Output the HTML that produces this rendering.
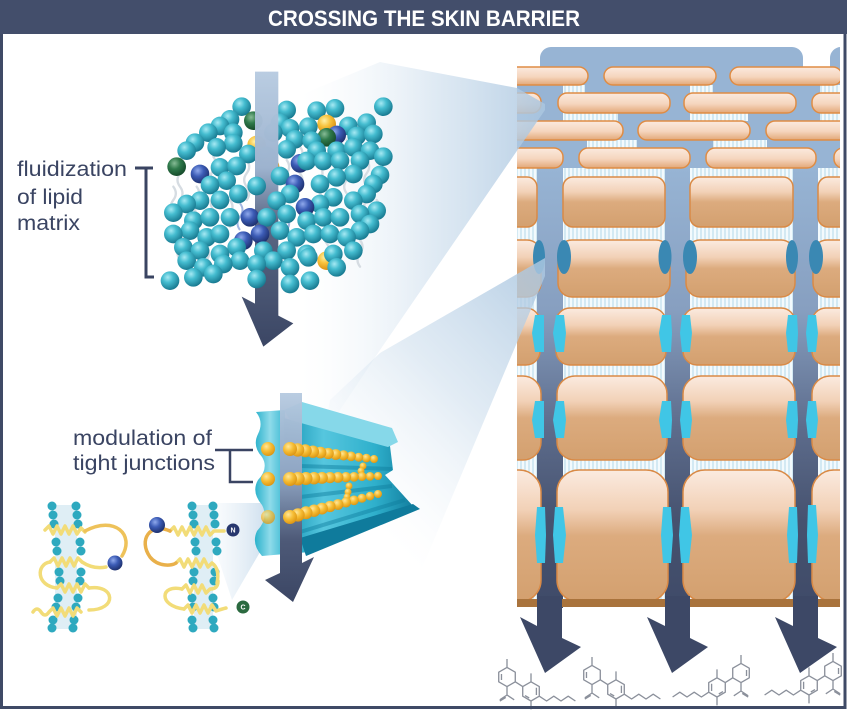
<!DOCTYPE html>
<html><head><meta charset="utf-8"><style>
html,body{margin:0;padding:0;background:#fff;}
svg{display:block;}
.t{fill:url(#gt)}.b{fill:url(#gb)}.g{fill:url(#gg)}.y{fill:url(#gy)}
.bd{fill:url(#gbead)}
.tb{fill:#2ea9bf}
</style></head><body>
<svg width="850" height="712" viewBox="0 0 850 712" xmlns="http://www.w3.org/2000/svg">
<defs>
<pattern id="stripes" width="4" height="10" patternUnits="userSpaceOnUse"><rect width="4" height="10" fill="#f3fafd"/><rect width="2" height="10" fill="#d3e9f3"/></pattern>
<linearGradient id="flat" x1="0" y1="0" x2="0" y2="1"><stop offset="0" stop-color="#fbeadf"/><stop offset="0.55" stop-color="#f5d5bd"/><stop offset="1" stop-color="#e2a878"/></linearGradient>
<linearGradient id="big" x1="0" y1="0" x2="0" y2="1"><stop offset="0" stop-color="#fbebe0"/><stop offset="0.3" stop-color="#f2d1b7"/><stop offset="0.5" stop-color="#dcab7e"/><stop offset="1" stop-color="#d3a06f"/></linearGradient>
<linearGradient id="col" x1="0" y1="168" x2="0" y2="640" gradientUnits="userSpaceOnUse"><stop offset="0" stop-color="#97b4d4"/><stop offset="0.3" stop-color="#879fc0"/><stop offset="0.55" stop-color="#5d6c8c"/><stop offset="0.75" stop-color="#46526f"/><stop offset="1" stop-color="#3d4866"/></linearGradient>
<linearGradient id="cone1" x1="545" y1="0" x2="300" y2="0" gradientUnits="userSpaceOnUse"><stop offset="0" stop-color="#aac6e0" stop-opacity="0.85"/><stop offset="0.45" stop-color="#cadcec" stop-opacity="0.6"/><stop offset="1" stop-color="#eef4f9" stop-opacity="0"/></linearGradient>
<linearGradient id="cone2" x1="545" y1="270" x2="330" y2="480" gradientUnits="userSpaceOnUse"><stop offset="0" stop-color="#aac6e0" stop-opacity="0.85"/><stop offset="0.5" stop-color="#cadcec" stop-opacity="0.55"/><stop offset="1" stop-color="#eef4f9" stop-opacity="0"/></linearGradient>
<linearGradient id="cone3" x1="270" y1="0" x2="200" y2="0" gradientUnits="userSpaceOnUse"><stop offset="0" stop-color="#bcd4e8" stop-opacity="0.8"/><stop offset="1" stop-color="#e6eff7" stop-opacity="0"/></linearGradient>
<linearGradient id="arr1" x1="0" y1="35" x2="0" y2="860" gradientUnits="userSpaceOnUse"><stop offset="0" stop-color="#b6cae0" stop-opacity="0.95"/><stop offset="0.35" stop-color="#9db3cf"/><stop offset="0.55" stop-color="#5a6784"/><stop offset="1" stop-color="#3b4664"/></linearGradient>
<linearGradient id="arr2" x1="0" y1="393" x2="0" y2="602" gradientUnits="userSpaceOnUse"><stop offset="0" stop-color="#b6cae0" stop-opacity="0.95"/><stop offset="0.4" stop-color="#8ea4c2"/><stop offset="0.7" stop-color="#4e5a78"/><stop offset="1" stop-color="#3b4664"/></linearGradient>
<radialGradient id="gt" cx="0.38" cy="0.32" r="0.7"><stop offset="0" stop-color="#a6e9f3"/><stop offset="0.4" stop-color="#45bdd0"/><stop offset="1" stop-color="#17788f"/></radialGradient>
<radialGradient id="gb" cx="0.38" cy="0.32" r="0.7"><stop offset="0" stop-color="#8fa9ec"/><stop offset="0.45" stop-color="#3c5cb6"/><stop offset="1" stop-color="#1d2f6c"/></radialGradient>
<radialGradient id="gg" cx="0.38" cy="0.32" r="0.7"><stop offset="0" stop-color="#86bb95"/><stop offset="0.45" stop-color="#2f7a4b"/><stop offset="1" stop-color="#164a2a"/></radialGradient>
<radialGradient id="gy" cx="0.38" cy="0.32" r="0.7"><stop offset="0" stop-color="#fff1a6"/><stop offset="0.45" stop-color="#f7c23c"/><stop offset="1" stop-color="#d98e12"/></radialGradient>
<radialGradient id="gbead" cx="0.38" cy="0.32" r="0.7"><stop offset="0" stop-color="#ffe79a"/><stop offset="0.5" stop-color="#f6bd34"/><stop offset="1" stop-color="#dc9514"/></radialGradient>
<linearGradient id="tjBody" x1="285" y1="0" x2="413" y2="0" gradientUnits="userSpaceOnUse"><stop offset="0" stop-color="#1596b6"/><stop offset="0.3" stop-color="#56c6de"/><stop offset="0.7" stop-color="#2fb0cc"/><stop offset="1" stop-color="#137f9f"/></linearGradient>
<linearGradient id="tjPlate" x1="255" y1="0" x2="285" y2="0" gradientUnits="userSpaceOnUse"><stop offset="0" stop-color="#2bb2cc"/><stop offset="0.5" stop-color="#8fdbea"/><stop offset="1" stop-color="#38b8d2"/></linearGradient>
<clipPath id="skin"><rect x="517" y="40" width="323" height="570"/></clipPath>
</defs>

<!-- ========== SKIN PANEL ========== -->
<g clip-path="url(#skin)">
  <rect x="517" y="67" width="323" height="540" fill="url(#stripes)"/>
  <rect x="540" y="47" width="263" height="40" rx="11" fill="#97b4d4"/>
  <rect x="830" y="47" width="40" height="40" rx="11" fill="#97b4d4"/>
  <rect x="517" y="67" width="323" height="110" fill="#97b4d4"/>
  <g fill="url(#stripes)">
    <rect x="563" y="85" width="22" height="8"/><rect x="690" y="85" width="23" height="8"/><rect x="820" y="85" width="20" height="8"/>
    <rect x="563" y="113" width="55" height="8"/><rect x="690" y="113" width="58" height="8"/><rect x="820" y="113" width="20" height="8"/>
    <rect x="587" y="140" width="50" height="8"/><rect x="713" y="140" width="54" height="8"/>
    <rect x="517" y="168" width="20" height="9"/><rect x="563" y="168" width="102" height="9"/><rect x="690" y="168" width="103" height="9"/><rect x="818" y="168" width="22" height="9"/>
  </g>
  <rect x="537" y="168" width="26" height="440" fill="url(#col)"/>
  <rect x="665" y="168" width="25" height="440" fill="url(#col)"/>
  <rect x="793" y="168" width="25" height="440" fill="url(#col)"/>
  <g fill="url(#flat)" stroke="#df8c44" stroke-width="1.5">
    <rect x="490" y="67" width="98" height="18" rx="9"/><rect x="604" y="67" width="112" height="18" rx="9"/><rect x="730" y="67" width="112" height="18" rx="9"/>
    <rect x="480" y="93" width="61" height="20" rx="9"/><rect x="558" y="93" width="112" height="20" rx="9"/><rect x="684" y="93" width="112" height="20" rx="9"/><rect x="812" y="93" width="112" height="20" rx="9"/>
    <rect x="480" y="121" width="143" height="19" rx="9"/><rect x="638" y="121" width="112" height="19" rx="9"/><rect x="766" y="121" width="112" height="19" rx="9"/>
    <rect x="480" y="148" width="83" height="20" rx="9"/><rect x="579" y="148" width="111" height="20" rx="9"/><rect x="706" y="148" width="110" height="20" rx="9"/><rect x="834" y="148" width="112" height="20" rx="9"/>
  </g>
  <g fill="url(#big)" stroke="#d98a46" stroke-width="1.5">
    <rect x="470" y="177" width="67" height="50" rx="10"/><rect x="563" y="177" width="102" height="50" rx="10"/><rect x="690" y="177" width="103" height="50" rx="10"/><rect x="818" y="177" width="102" height="50" rx="10"/>
    <rect x="470" y="240" width="71" height="57" rx="14"/><rect x="558" y="240" width="112" height="57" rx="14"/><rect x="686" y="240" width="109" height="57" rx="14"/><rect x="813" y="240" width="107" height="57" rx="14"/>
    <rect x="470" y="308" width="70" height="57" rx="14"/><rect x="556" y="308" width="110" height="57" rx="14"/><rect x="683" y="308" width="112" height="57" rx="14"/><rect x="812" y="308" width="108" height="57" rx="14"/>
    <rect x="470" y="376" width="71" height="84" rx="18"/><rect x="557" y="376" width="110" height="84" rx="18"/><rect x="683" y="376" width="112" height="84" rx="18"/><rect x="812" y="376" width="108" height="84" rx="18"/>
    <rect x="470" y="470" width="71" height="132" rx="22"/><rect x="557" y="470" width="111" height="132" rx="22"/><rect x="683" y="470" width="112" height="132" rx="22"/><rect x="812" y="470" width="108" height="132" rx="22"/>
  </g>
  <g fill="#3a88b3">
    <ellipse cx="539" cy="257" rx="6" ry="17"/><ellipse cx="564" cy="257" rx="7" ry="17"/>
    <ellipse cx="665" cy="257" rx="6.5" ry="17"/><ellipse cx="690" cy="257" rx="7" ry="17"/>
    <ellipse cx="792" cy="257" rx="6" ry="17"/><ellipse cx="816" cy="257" rx="7" ry="17"/>
  </g>
  <g fill="#40c6e6">
    <polygon points="535,315 544,315 544,352 535,352 532,333"/><polygon points="556,315 564,315 566,333 564,352 556,352 553,333"/>
    <polygon points="662,315 671,315 672,333 671,352 662,352 659,333"/><polygon points="682,315 690,315 692,333 690,352 682,352 680,333"/>
    <polygon points="788,315 797,315 798,333 797,352 788,352 786,333"/><polygon points="808,315 816,315 818,333 816,352 808,352 806,333"/>
    <polygon points="535,401 544,401 544,438 535,438 532,420"/><polygon points="556,401 564,401 566,420 564,438 556,438 553,420"/>
    <polygon points="662,401 671,401 672,420 671,438 662,438 659,420"/><polygon points="682,401 690,401 692,420 690,438 682,438 680,420"/>
    <polygon points="788,401 797,401 798,420 797,438 788,438 786,420"/><polygon points="808,401 816,401 818,420 816,438 808,438 806,420"/>
    <polygon points="537,507 545,507 546,535 545,563 537,563 535,535"/><polygon points="555,507 563,507 566,535 563,563 555,563 553,535"/>
    <polygon points="663,507 671,507 673,535 671,563 663,563 661,535"/><polygon points="681,507 689,507 692,535 689,563 681,563 679,535"/>
    <polygon points="789,507 797,507 798,535 797,563 789,563 787,535"/><polygon points="808,505 816,505 818,535 816,563 808,563 807,535"/>
  </g>
  <rect x="517" y="599" width="323" height="8" fill="#a9733c"/>
</g>

<g fill="#3d4866">
  <polygon points="537,596 562,596 562,638 581,647 545,673 520,617 537,626"/>
  <polygon points="665,596 690,596 690,638 708,647 672,673 647,617 665,626"/>
  <polygon points="793,596 818,596 818,638 837,647 800,673 775,617 793,626"/>
</g>

<g fill="none" stroke="#8b909b" stroke-width="1.1" stroke-linejoin="round">
  <g transform="translate(507,677) scale(1.2)">
    <path d="M0,-8 L6.9,-4 L6.9,4 L0,8 L-6.9,4 L-6.9,-4 Z M-4.6,-2.5 L-4.6,2.5 M0,-8 L0,-15 M0,8 L0,15 L-6,19 M0,15 L6,19 M-1,17 L-6,20 M6.9,4 L13.1,8 M20,4 L26.9,8 L26.9,16 L20,20 L13.1,16 L13.1,8 Z M20,4 L20,-3 M20,20 L20,27 M26.9,16 L33,20 L39,16 L45,20 L51,16 L57,20 M18.5,17.5 L15,15.5 M24.5,9 L24.5,15"/>
  </g>
  <g transform="translate(592,675) scale(1.2)">
    <path d="M0,-8 L6.9,-4 L6.9,4 L0,8 L-6.9,4 L-6.9,-4 Z M-4.6,-2.5 L-4.6,2.5 M0,-8 L0,-15 M0,8 L0,15 L-6,19 M0,15 L6,19 M-1,17 L-6,20 M6.9,4 L13.1,8 M20,4 L26.9,8 L26.9,16 L20,20 L13.1,16 L13.1,8 Z M20,4 L20,-3 M20,20 L20,27 M26.9,16 L33,20 L39,16 L45,20 L51,16 L57,20 M18.5,17.5 L15,15.5 M24.5,9 L24.5,15"/>
  </g>
  <g transform="translate(741,673) scale(-1.2,1.2)">
    <path d="M0,-8 L6.9,-4 L6.9,4 L0,8 L-6.9,4 L-6.9,-4 Z M-4.6,-2.5 L-4.6,2.5 M0,-8 L0,-15 M0,8 L0,15 L-6,19 M0,15 L6,19 M-1,17 L-6,20 M6.9,4 L13.1,8 M20,4 L26.9,8 L26.9,16 L20,20 L13.1,16 L13.1,8 Z M20,4 L20,-3 M20,20 L20,27 M26.9,16 L33,20 L39,16 L45,20 L51,16 L57,20 M18.5,17.5 L15,15.5 M24.5,9 L24.5,15"/>
  </g>
  <g transform="translate(833,671) scale(-1.2,1.2)">
    <path d="M0,-8 L6.9,-4 L6.9,4 L0,8 L-6.9,4 L-6.9,-4 Z M-4.6,-2.5 L-4.6,2.5 M0,-8 L0,-15 M0,8 L0,15 L-6,19 M0,15 L6,19 M-1,17 L-6,20 M6.9,4 L13.1,8 M20,4 L26.9,8 L26.9,16 L20,20 L13.1,16 L13.1,8 Z M20,4 L20,-3 M20,20 L20,27 M26.9,16 L33,20 L39,16 L45,20 L51,16 L57,20 M18.5,17.5 L15,15.5 M24.5,9 L24.5,15"/>
  </g>
</g>

<!-- cones -->
<polygon points="380,62 517,88 545,104 545,110 380,350 300,470 240,120" fill="url(#cone1)"/>
<polygon points="545,258 545,276 420,573 300,560 330,400 380,353" fill="url(#cone2)"/>
<polygon points="270,503 270,535 232,600 200,503" fill="url(#cone3)"/>

<!-- ========== LIPID CLUSTER ========== -->
<g transform="translate(120 60) scale(0.33333)">
  <g fill="none" stroke="#d6dce2" stroke-width="7" stroke-linecap="round">
    <path d="M180,300 q15,20 0,40 t0,40 t0,40"/><path d="M230,380 q15,20 0,40 t0,40"/>
    <path d="M280,290 q15,20 0,40 t0,40 t0,40 t0,40"/><path d="M330,420 q15,20 0,40 t0,40"/>
    <path d="M380,300 q15,20 0,40 t0,40 t0,40"/><path d="M540,260 q15,20 0,40 t0,40 t0,40"/>
    <path d="M600,320 q15,20 0,40 t0,40 t0,40"/><path d="M680,240 q15,20 0,40 t0,40 t0,40 t0,40"/>
    <path d="M740,300 q15,20 0,40 t0,40 t0,40 t0,40"/><path d="M770,420 q15,20 0,40 t0,40"/>
    <path d="M620,470 q15,20 0,40 t0,40 t0,40"/><path d="M180,520 q15,20 0,40 t0,40"/>
    <path d="M720,540 q15,20 0,40 t0,40"/><path d="M450,520 q15,20 0,40 t0,40 t0,40"/>
    <path d="M640,190 q15,20 0,40 t0,40"/><path d="M260,560 q15,20 0,40 t0,40"/>
    <path d="M500,300 q15,20 0,40 t0,40 t0,40"/><path d="M160,380 q15,20 0,40 t0,40"/>
  </g>
  <g fill="none" stroke="#7c97d6" stroke-width="6" opacity="0.7">
    <path d="M360,430 q15,20 0,40 t0,40"/><path d="M500,470 q15,20 0,40"/><path d="M580,500 q15,20 0,40"/>
  </g>
  <g>
    <circle class="t" cx="365" cy="140" r="28"/><circle class="t" cx="500" cy="150" r="28"/><circle class="t" cx="590" cy="152" r="28"/><circle class="t" cx="645" cy="145" r="28"/><circle class="t" cx="790" cy="140" r="28"/>
    <circle class="t" cx="330" cy="178" r="28"/><circle class="g" cx="400" cy="182" r="28"/><circle class="t" cx="480" cy="188" r="28"/><circle class="y" cx="620" cy="192" r="28"/><circle class="t" cx="740" cy="188" r="28"/>
    <circle class="t" cx="300" cy="198" r="28"/><circle class="t" cx="510" cy="205" r="28"/><circle class="t" cx="565" cy="200" r="28"/><circle class="t" cx="685" cy="198" r="28"/>
    <circle class="t" cx="265" cy="218" r="28"/><circle class="t" cx="340" cy="218" r="28"/><circle class="t" cx="460" cy="218" r="28"/><circle class="b" cx="650" cy="225" r="28"/><circle class="g" cx="620" cy="232" r="28"/><circle class="t" cx="710" cy="228" r="28"/><circle class="t" cx="760" cy="222" r="28"/>
    <circle class="t" cx="225" cy="248" r="28"/><circle class="t" cx="525" cy="238" r="28"/><circle class="t" cx="575" cy="242" r="28"/><circle class="t" cx="340" cy="250" r="28"/><circle class="y" cx="410" cy="255" r="28"/>
    <circle class="t" cx="200" cy="272" r="28"/><circle class="t" cx="290" cy="262" r="28"/><circle class="t" cx="385" cy="282" r="28"/><circle class="t" cx="440" cy="288" r="28"/><circle class="t" cx="500" cy="268" r="28"/><circle class="t" cx="590" cy="272" r="28"/><circle class="t" cx="650" cy="272" r="28"/><circle class="t" cx="700" cy="262" r="28"/><circle class="t" cx="750" cy="272" r="28"/><circle class="t" cx="790" cy="290" r="28"/>
    <circle class="g" cx="170" cy="320" r="28"/><circle class="t" cx="300" cy="322" r="28"/><circle class="t" cx="350" cy="318" r="28"/><circle class="y" cx="450" cy="320" r="28"/><circle class="b" cx="540" cy="310" r="28"/><circle class="t" cx="560" cy="303" r="28"/><circle class="t" cx="610" cy="303" r="28"/><circle class="t" cx="660" cy="302" r="28"/><circle class="t" cx="720" cy="302" r="28"/><circle class="b" cx="240" cy="342" r="28"/>
  </g>
  <polygon points="405,35 475,35 475,767 520,790 430,860 365,710 405,731" fill="url(#arr1)"/>
  <g>
    <circle class="t" cx="780" cy="345" r="28"/><circle class="t" cx="700" cy="342" r="28"/><circle class="t" cx="650" cy="352" r="28"/><circle class="t" cx="480" cy="348" r="28"/><circle class="t" cx="320" cy="362" r="28"/>
    <circle class="t" cx="270" cy="375" r="28"/><circle class="t" cx="410" cy="378" r="28"/><circle class="b" cx="525" cy="372" r="28"/><circle class="t" cx="600" cy="372" r="28"/><circle class="t" cx="760" cy="372" r="28"/>
    <circle class="t" cx="355" cy="402" r="28"/><circle class="t" cx="510" cy="402" r="28"/><circle class="t" cx="640" cy="412" r="28"/><circle class="t" cx="740" cy="402" r="28"/>
    <circle class="t" cx="240" cy="422" r="28"/><circle class="t" cx="300" cy="420" r="28"/><circle class="t" cx="470" cy="422" r="28"/><circle class="t" cx="600" cy="432" r="28"/><circle class="t" cx="700" cy="422" r="28"/><circle class="t" cx="200" cy="432" r="28"/><circle class="b" cx="555" cy="442" r="28"/>
    <circle class="t" cx="160" cy="458" r="28"/><circle class="t" cx="770" cy="452" r="28"/><circle class="t" cx="720" cy="462" r="28"/><circle class="t" cx="500" cy="462" r="28"/>
    <circle class="t" cx="220" cy="482" r="28"/><circle class="t" cx="270" cy="472" r="28"/><circle class="t" cx="330" cy="472" r="28"/><circle class="b" cx="390" cy="472" r="28"/><circle class="t" cx="440" cy="472" r="28"/><circle class="t" cx="560" cy="482" r="28"/><circle class="t" cx="610" cy="472" r="28"/><circle class="t" cx="660" cy="472" r="28"/><circle class="t" cx="750" cy="492" r="28"/>
    <circle class="t" cx="210" cy="512" r="28"/><circle class="t" cx="480" cy="512" r="28"/><circle class="t" cx="720" cy="512" r="28"/><circle class="b" cx="420" cy="522" r="28"/>
    <circle class="t" cx="160" cy="522" r="28"/><circle class="t" cx="260" cy="532" r="28"/><circle class="t" cx="300" cy="522" r="28"/><circle class="t" cx="530" cy="532" r="28"/><circle class="t" cx="580" cy="522" r="28"/><circle class="t" cx="630" cy="522" r="28"/><circle class="t" cx="680" cy="532" r="28"/><circle class="b" cx="370" cy="542" r="28"/>
    <circle class="t" cx="190" cy="562" r="28"/><circle class="t" cx="350" cy="562" r="28"/><circle class="t" cx="240" cy="572" r="28"/><circle class="t" cx="430" cy="572" r="28"/><circle class="t" cx="500" cy="572" r="28"/><circle class="t" cx="700" cy="572" r="28"/>
    <circle class="t" cx="300" cy="582" r="28"/><circle class="t" cx="560" cy="582" r="28"/><circle class="t" cx="565" cy="592" r="28"/><circle class="y" cx="620" cy="602" r="28"/><circle class="t" cx="640" cy="582" r="28"/>
    <circle class="t" cx="200" cy="602" r="28"/><circle class="t" cx="360" cy="602" r="28"/><circle class="t" cx="460" cy="602" r="28"/><circle class="t" cx="310" cy="612" r="28"/><circle class="t" cx="410" cy="612" r="28"/><circle class="t" cx="650" cy="622" r="28"/>
    <circle class="t" cx="250" cy="622" r="28"/><circle class="t" cx="510" cy="622" r="28"/><circle class="t" cx="280" cy="642" r="28"/><circle class="t" cx="220" cy="652" r="28"/><circle class="t" cx="150" cy="662" r="28"/><circle class="t" cx="410" cy="657" r="28"/><circle class="t" cx="570" cy="662" r="28"/><circle class="t" cx="510" cy="672" r="28"/>
  </g>
</g>

<!-- ========== TIGHT JUNCTION ========== -->
<path d="M256,412 Q264,422 258,434 Q252,446 262,457 Q269,468 258,480 Q251,492 262,505 Q269,518 257,531 Q251,544 262,556 L285,554 L285,410 Z" fill="url(#tjPlate)"/>
<polygon points="284,418 390,446 393,470 385,475 413,506 402,512 310,552 285,554" fill="url(#tjBody)"/>
<polygon points="284,410 302,402 392,428 398,442 388,447 290,420" fill="#86d8e9"/>
<polygon points="300,538 413,504 420,509 306,556" fill="#0f7b9c"/>
<g stroke="#0e7d9d" stroke-width="4" opacity="0.45" fill="none">
  <path d="M300,466 L392,469"/><path d="M300,497 L392,486"/><path d="M300,532 L405,500"/>
</g>
<polygon points="280,393 302,393 302,563 314,557 293,602 265,580 280,573" fill="url(#arr2)"/>
<g>
  <circle class="bd" cx="268" cy="449" r="7"/><circle class="bd" cx="268" cy="479" r="7"/><circle class="bd" cx="268" cy="517" r="7" opacity="0.75"/>
  <circle class="bd" cx="363" cy="466" r="3.5"/><circle class="bd" cx="361" cy="471" r="3.5"/>
  <circle class="bd" cx="349" cy="486" r="3.5"/><circle class="bd" cx="348" cy="492" r="3.5"/><circle class="bd" cx="347" cy="497" r="3.5"/>
  <circle class="bd" cx="374" cy="459" r="4"/><circle class="bd" cx="366.4" cy="458.1" r="4.3"/><circle class="bd" cx="358.7" cy="457.2" r="4.5"/><circle class="bd" cx="351.1" cy="456.3" r="4.8"/><circle class="bd" cx="343.5" cy="455.4" r="5.1"/><circle class="bd" cx="335.8" cy="454.5" r="5.4"/><circle class="bd" cx="328.2" cy="453.5" r="5.6"/><circle class="bd" cx="320.5" cy="452.6" r="5.9"/><circle class="bd" cx="312.9" cy="451.7" r="6.2"/><circle class="bd" cx="305.3" cy="450.8" r="6.5"/><circle class="bd" cx="297.6" cy="449.9" r="6.7"/><circle class="bd" cx="290" cy="449" r="7"/>
  <circle class="bd" cx="378" cy="476" r="4"/><circle class="bd" cx="370" cy="476.3" r="4.3"/><circle class="bd" cx="362" cy="476.5" r="4.5"/><circle class="bd" cx="354" cy="476.8" r="4.8"/><circle class="bd" cx="346" cy="477.1" r="5.1"/><circle class="bd" cx="338" cy="477.4" r="5.4"/><circle class="bd" cx="330" cy="477.6" r="5.6"/><circle class="bd" cx="322" cy="477.9" r="5.9"/><circle class="bd" cx="314" cy="478.2" r="6.2"/><circle class="bd" cx="306" cy="478.5" r="6.5"/><circle class="bd" cx="298" cy="478.7" r="6.7"/><circle class="bd" cx="290" cy="479" r="7"/>
  <circle class="bd" cx="378" cy="494" r="4"/><circle class="bd" cx="370" cy="496.1" r="4.3"/><circle class="bd" cx="362" cy="498.2" r="4.5"/><circle class="bd" cx="354" cy="500.3" r="4.8"/><circle class="bd" cx="346" cy="502.4" r="5.1"/><circle class="bd" cx="338" cy="504.5" r="5.4"/><circle class="bd" cx="330" cy="506.5" r="5.6"/><circle class="bd" cx="322" cy="508.6" r="5.9"/><circle class="bd" cx="314" cy="510.7" r="6.2"/><circle class="bd" cx="306" cy="512.8" r="6.5"/><circle class="bd" cx="298" cy="514.9" r="6.7"/><circle class="bd" cx="290" cy="517" r="7"/>
</g>

<!-- ========== CLAUDINS ========== -->
<g>
  <rect x="55" y="505" width="22" height="124" fill="#dcecf4" opacity="0.9"/>
  <rect x="194" y="505" width="19" height="124" fill="#dcecf4" opacity="0.9"/>
  <g class="tb">
    <circle cx="52" cy="506" r="4.5"/><circle cx="53" cy="515" r="4.5"/><circle cx="54" cy="524" r="4.5"/><circle cx="56" cy="542" r="4.5"/><circle cx="57" cy="551" r="4.5"/><circle cx="59" cy="572" r="4.5"/><circle cx="60" cy="581" r="4.5"/><circle cx="58" cy="598" r="4.5"/><circle cx="56" cy="607" r="4.5"/><circle cx="53" cy="620" r="4.5"/><circle cx="52" cy="628" r="4.5"/>
    <circle cx="76" cy="506" r="4.5"/><circle cx="77" cy="515" r="4.5"/><circle cx="78" cy="524" r="4.5"/><circle cx="80" cy="542" r="4.5"/><circle cx="81" cy="551" r="4.5"/><circle cx="81" cy="572" r="4.5"/><circle cx="80" cy="581" r="4.5"/><circle cx="78" cy="598" r="4.5"/><circle cx="76" cy="607" r="4.5"/><circle cx="74" cy="620" r="4.5"/><circle cx="73" cy="628" r="4.5"/>
    <circle cx="192" cy="506" r="4.5"/><circle cx="193" cy="515" r="4.5"/><circle cx="194" cy="524" r="4.5"/><circle cx="195" cy="542" r="4.5"/><circle cx="196" cy="551" r="4.5"/><circle cx="194" cy="572" r="4.5"/><circle cx="193" cy="581" r="4.5"/><circle cx="192" cy="598" r="4.5"/><circle cx="193" cy="607" r="4.5"/><circle cx="192" cy="620" r="4.5"/><circle cx="193" cy="628" r="4.5"/>
    <circle cx="213" cy="506" r="4.5"/><circle cx="214" cy="515" r="4.5"/><circle cx="215" cy="524" r="4.5"/><circle cx="216" cy="542" r="4.5"/><circle cx="217" cy="551" r="4.5"/><circle cx="215" cy="572" r="4.5"/><circle cx="214" cy="581" r="4.5"/><circle cx="213" cy="598" r="4.5"/><circle cx="214" cy="607" r="4.5"/><circle cx="213" cy="620" r="4.5"/><circle cx="214" cy="628" r="4.5"/>
  </g>
  <g fill="none" stroke="#f2dc78" stroke-width="3.5" stroke-linecap="round" stroke-linejoin="round">
    <path d="M45,530 l4,-4 l4,8 l4,-8 l4,8 l4,-8 l4,8 l4,-8 l4,8 l4,-6 l4,4"/>
    <path d="M50,562 l4,-4 l4,8 l4,-8 l4,8 l4,-8 l4,8 l4,-8 l4,4"/>
    <path d="M57,588 l4,-4 l4,8 l4,-8 l4,8 l4,-8 l4,8 l4,-8 l4,4"/>
    <path d="M33,612 q4,-6 8,0 t8,0 l4,-4 l4,8 l4,-8 l4,8 l4,-8 l4,8 l4,-8 l4,4"/>
    <path d="M85,531 C115,515 135,535 122,556" stroke="#eec25a"/>
    <path d="M106,567 C96,569 88,566 82,562"/>
    <path d="M50,562 C36,564 36,586 57,588"/>
    <path d="M89,588 C115,584 118,610 89,610"/>
    <path d="M170,531 l4,-4 l4,8 l4,-8 l4,8 l4,-8 l4,8 l4,-8 l4,8 l4,-8 l4,8 l4,-4 l10,0"/>
    <path d="M176,563 l4,-4 l4,8 l4,-8 l4,8 l4,-8 l4,8 l4,-8 l4,8 l4,-4 q8,6 5,20"/>
    <path d="M182,589 l4,-4 l4,8 l4,-8 l4,8 l4,-8 l4,8 l4,-4 q8,0 8,-8"/>
    <path d="M184,609 l4,-4 l4,8 l4,-8 l4,8 l4,-8 l4,8 l4,-8 l4,6 q6,-2 10,-3"/>
    <path d="M170,531 C150,522 138,540 150,557 C158,567 172,566 176,563" stroke="#e9b04a"/>
    <path d="M182,589 C160,584 158,606 184,609"/>
  </g>
  <circle cx="115" cy="563" r="7.5" fill="url(#gb)"/>
  <circle cx="157" cy="525" r="8" fill="url(#gb)"/>
  <circle cx="233" cy="530" r="6.5" fill="#27376e"/>
  <text x="233" y="532.5" font-family="Liberation Sans, sans-serif" font-size="7" font-weight="bold" fill="#fff" text-anchor="middle">N</text>
  <circle cx="243" cy="607" r="6.5" fill="#2b6a40"/>
  <text x="243" y="609.5" font-family="Liberation Sans, sans-serif" font-size="7" font-weight="bold" fill="#fff" text-anchor="middle">C</text>
</g>

<!-- ========== LABELS ========== -->
<g font-family="Liberation Sans, sans-serif" font-size="21" fill="#3a4462">
  <text x="17" y="176" textLength="110" lengthAdjust="spacingAndGlyphs">fluidization</text>
  <text x="17" y="204" textLength="66" lengthAdjust="spacingAndGlyphs">of lipid</text>
  <text x="17" y="230" textLength="63" lengthAdjust="spacingAndGlyphs">matrix</text>
  <text x="73" y="445" textLength="139" lengthAdjust="spacingAndGlyphs">modulation of</text>
  <text x="73" y="470" textLength="142" lengthAdjust="spacingAndGlyphs">tight junctions</text>
</g>
<path d="M135,168 H153 M146,168 V277 H154" fill="none" stroke="#3a4462" stroke-width="3"/>
<path d="M215,450 H253 M230,450 V482 H253" fill="none" stroke="#3a4462" stroke-width="2.5"/>

<!-- ========== FRAME & TITLE ========== -->
<rect x="1.5" y="1.5" width="843.5" height="706" fill="none" stroke="#3f4a66" stroke-width="3"/>
<rect x="0" y="0" width="847" height="34" fill="#434e6b"/>
<text x="424" y="26" font-family="Liberation Sans, sans-serif" font-size="22" font-weight="bold" fill="#ffffff" text-anchor="middle" textLength="312" lengthAdjust="spacingAndGlyphs">CROSSING THE SKIN BARRIER</text>
</svg>
</body></html>
